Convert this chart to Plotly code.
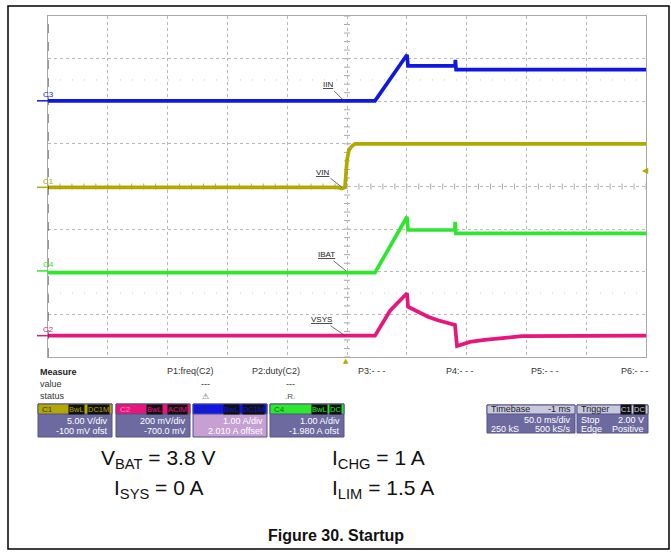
import plotly.graph_objects as go

W, H = 671, 556

# ---- scope channel settings (value per div, offset) ----
ch_scale = {'C1': 5.0, 'C2': 0.2, 'C3': 1.0, 'C4': 1.0}
ch_offset = {'C1': -0.1, 'C2': -0.7, 'C3': 2.01, 'C4': -1.98}
ch_color = {'C1': '#b3a800', 'C2': '#e8157c', 'C3': '#1018e0', 'C4': '#2de62d'}

# ---- traces (time in ms) ----
# C3 : IIN (A)
iin_t = [-250, 23.4, 50.2, 51.0, 90.4, 90.6, 91.2, 250]
iin_a = [0.0, 0.0, 1.08, 0.82, 0.82, 0.96, 0.73, 0.73]

# C1 : VIN (V)
vin_t = [-250, -8, -4, -1.7, 0.0, 1.7, 4.2, 6.7, 250]
vin_v = [0.0, 0.0, -0.15, 0.0, 3.2, 4.4, 4.85, 5.1, 5.1]

# C4 : IBAT (A)
ibat_t = [-250, 23.4, 50.2, 51.0, 90.2, 90.4, 91.0, 250]
ibat_a = [-0.04, -0.04, 1.27, 0.96, 0.96, 1.15, 0.88, 0.88]

# C2 : VSYS (V, AC coupled)
vsys_t = [-250, 23.4, 36, 50.2, 51.0, 60, 67.7, 76, 84.4, 90.3, 92.0, 102.8, 115, 128, 146, 250]
vsys_v = [0.0, 0.0, 0.117, 0.199, 0.136, 0.11, 0.089, 0.072, 0.058, 0.05, -0.049, -0.029, -0.02, -0.013, -0.002, 0.0]

trig_level = 2.0   # V on C1
trig_time = -1.0   # ms

# channel box texts
ch_boxes = [
    ('C1', 'BwL', 'DC1M', '5.00 V/div', '-100 mV ofst'),
    ('C2', 'BwL', 'ACIM', '200 mV/div', '-700.0 mV'),
    ('C3', 'BwL', 'DC1M', '1.00 A/div', '2.010 A offset'),
    ('C4', 'BwL', 'DC', '1.00 A/div', '-1.980 A ofst'),
]


def to_div(ch, vals):
    return [(v + ch_offset[ch]) / ch_scale[ch] for v in vals]


def px(x):
    return x / W


def py(y):
    return 1 - y / H


fig = go.Figure()

series = [('C3', iin_t, iin_a, 'IIN'), ('C1', vin_t, vin_v, 'VIN'),
          ('C4', ibat_t, ibat_a, 'IBAT'), ('C2', vsys_t, vsys_v, 'VSYS')]

for ch, t, v, name in series:
    fig.add_trace(go.Scatter(x=t, y=to_div(ch, v), mode='lines', name=name,
                             line=dict(color=ch_color[ch], width=3.7),
                             hoverinfo='skip'))

shapes = []
ann = []

# faint dotted lines and centre ticks
for yy in [2.5, -2.5]:
    shapes.append(dict(type='line', xref='x', yref='y', x0=-250, x1=250, y0=yy, y1=yy,
                       line=dict(color='#c8c8c8', width=1, dash='1px,11px'), layer='below'))
for i in range(-25, 26):
    t = i * 10
    shapes.append(dict(type='line', xref='x', yref='y', x0=t, x1=t, y0=-0.07, y1=0.07,
                       line=dict(color='#a8a8a8', width=1), layer='below'))
for i in range(-20, 21):
    yy = i * 0.2
    shapes.append(dict(type='line', xref='x', yref='y', x0=-2.5, x1=2.5, y0=yy, y1=yy,
                       line=dict(color='#a8a8a8', width=1), layer='below'))
# left border dashed
shapes.append(dict(type='line', xref='x', yref='y', x0=-250, x1=-250, y0=-4, y1=4,
                   line=dict(color='#303030', width=1, dash='dash')))

# channel ground markers on the left
for ch in ['C3', 'C1', 'C4', 'C2']:
    lvl = ch_offset[ch] / ch_scale[ch]
    shapes.append(dict(type='line', xref='paper', yref='y', x0=px(37), x1=px(48), y0=lvl, y1=lvl,
                       line=dict(color=ch_color[ch], width=1.5)))
    ann.append(dict(xref='paper', yref='y', x=px(41), y=lvl, yshift=6, text=ch, showarrow=False,
                    font=dict(family='Liberation Sans', size=8, color=ch_color[ch])))

# trigger level (right) and trigger time (bottom) markers
ann.append(dict(xref='paper', yref='y', x=px(651), y=to_div('C1', [trig_level])[0], text='◀',
                showarrow=False, font=dict(family='DejaVu Sans', size=8, color=ch_color['C1'])))
ann.append(dict(xref='x', yref='paper', x=trig_time, y=py(361), text='▲',
                showarrow=False, font=dict(family='DejaVu Sans', size=7, color=ch_color['C1'])))

# leader labels
labels = [('C3', 'IIN', -2.5, -16, -16), ('C1', 'VIN', -4.2, -19, -15),
          ('C4', 'IBAT', -0.8, -20, -16), ('C2', 'VSYS', -1.7, -23, -16)]
for ch, txt, t, ax, ay in labels:
    ann.append(dict(xref='x', yref='y', x=t, y=ch_offset[ch] / ch_scale[ch], text='<u>' + txt + '</u>',
                    showarrow=True, arrowhead=0, arrowwidth=0.8, arrowcolor='#444', ax=ax, ay=ay,
                    standoff=0, font=dict(family='Liberation Sans', size=8, color='#222')))


def text(x, y, s, size=9, color='#222', anchor='left', bold=False, family='Liberation Sans', bg=None):
    d = dict(xref='paper', yref='paper', x=px(x), y=py(y), text=('<b>%s</b>' % s) if bold else s,
             showarrow=False, xanchor=anchor, yanchor='middle',
             font=dict(family=family, size=size, color=color))
    if bg:
        d['bgcolor'] = bg
        d['borderpad'] = 0
    ann.append(d)


def rect(x0, y0, x1, y1, fill, line='rgba(0,0,0,0)'):
    shapes.append(dict(type='rect', xref='paper', yref='paper', x0=px(x0), x1=px(x1),
                       y0=py(y1), y1=py(y0), fillcolor=fill, line=dict(color=line, width=1)))


# measure area
text(38, 372, 'Measure', size=9, color='#222', bold=True)
text(38, 384, 'value', size=9, color='#333')
text(38, 396, 'status', size=9, color='#333')
meas = [('P1:freq(C2)', 190), ('P2:duty(C2)', 276), ('P3:- - -', 372),
        ('P4:- - -', 460), ('P5:- - -', 545), ('P6:- - -', 635)]
for s, x in meas:
    text(x, 371, s, size=9, color='#333', anchor='center')
text(205, 384, '---', size=9, color='#333', anchor='center')
text(290, 384, '---', size=9, color='#333', anchor='center')
text(205, 396, '⚠', size=8, color='#555', anchor='center')
text(290, 396, '.R.', size=8, color='#555', anchor='center')

# channel boxes
box_x = [38, 116, 193, 270]
body_fill = {'C1': '#6d6aa0', 'C2': '#6d6aa0', 'C3': '#c6a0d2', 'C4': '#6d6aa0'}
head_txt = {'C1': '#333300', 'C2': '#ff8cc0', 'C3': '#2020a0', 'C4': '#117711'}
for (ch, bw, cpl, l1, l2), x0 in zip(ch_boxes, box_x):
    x1 = x0 + 74
    rect(x0, 404, x1, 437, body_fill[ch], '#55538a')
    rect(x0, 404, x1, 414, ch_color[ch], '#55538a')
    text(x0 + 2, 409, ch, size=8, color=head_txt[ch])
    text(x1 - 2, 409, cpl, size=7.5, color=ch_color[ch], anchor='right', bg='#111')
    text(x1 - 5 - 5.5 * len(cpl), 409, bw, size=7.5, color=ch_color[ch], anchor='right', bg='#111')
    text(x1 - 2, 421, l1, size=9, color='#ffffff', anchor='right')
    text(x1 - 2, 431, l2, size=9, color='#ffffff', anchor='right')

# timebase / trigger boxes
rect(487, 405, 575, 433, '#6d6aa0', '#55538a')
rect(487, 405, 575, 414, '#c9c9de', '#55538a')
text(489, 409, 'Timebase', size=9, color='#222')
text(573, 409, '-1 ms', size=9, color='#222', anchor='right')
text(573, 420, '50.0 ms/div', size=9, color='#fff', anchor='right')
text(489, 429, '250 kS', size=9, color='#fff')
text(573, 429, '500 kS/s', size=9, color='#fff', anchor='right')

rect(577, 405, 648, 433, '#6d6aa0', '#55538a')
rect(577, 405, 648, 414, '#c9c9de', '#55538a')
text(579, 409, 'Trigger', size=9, color='#222')
text(646, 409, 'DC', size=7.5, color='#c9c9de', anchor='right', bg='#111')
text(632, 409, 'C1', size=7.5, color='#c9c9de', anchor='right', bg='#111')
text(579, 420, 'Stop', size=9, color='#fff')
text(646, 420, '2.00 V', size=9, color='#fff', anchor='right')
text(579, 429, 'Edge', size=9, color='#fff')
text(646, 429, 'Positive', size=9, color='#fff', anchor='right')

# conditions and caption
cap_font = 'Liberation Sans'
text(99, 459, 'V<sub>BAT</sub> = 3.8 V', size=21, color='#111', family=cap_font)
text(330, 459, 'I<sub>CHG</sub> = 1 A', size=21, color='#111', family=cap_font)
text(112, 489, 'I<sub>SYS</sub> = 0 A', size=21, color='#111', family=cap_font)
text(330, 489, 'I<sub>LIM</sub> = 1.5 A', size=21, color='#111', family=cap_font)
text(336, 535, 'Figure 30. Startup', size=16, color='#111', anchor='center', bold=True)

# outer frame
rect(8, 6, 669, 549, 'rgba(0,0,0,0)', '#000000')
shapes[-1]['line']['width'] = 1.5

fig.update_layout(
    width=W, height=H,
    margin=dict(l=0, r=0, t=0, b=0),
    paper_bgcolor='white', plot_bgcolor='white',
    showlegend=False,
    shapes=shapes, annotations=ann,
    xaxis=dict(domain=[px(48), px(646)], range=[-250, 250], dtick=50, tick0=-250,
               showgrid=True, gridcolor='#b8b8b8', griddash='dot', gridwidth=1,
               zeroline=False, showticklabels=False, ticks='',
               showline=True, linecolor='#a8a8a8', mirror=True, fixedrange=True),
    yaxis=dict(domain=[py(357), py(16)], range=[-4, 4], dtick=1, tick0=-4,
               showgrid=True, gridcolor='#b8b8b8', griddash='dot', gridwidth=1,
               zeroline=False, showticklabels=False, ticks='',
               showline=True, linecolor='#a8a8a8', mirror=True, fixedrange=True),
)

fig.write_html("out.html", config={'displayModeBar': False},
               post_script="document.body.style.margin='0';document.body.style.overflow='hidden';")
